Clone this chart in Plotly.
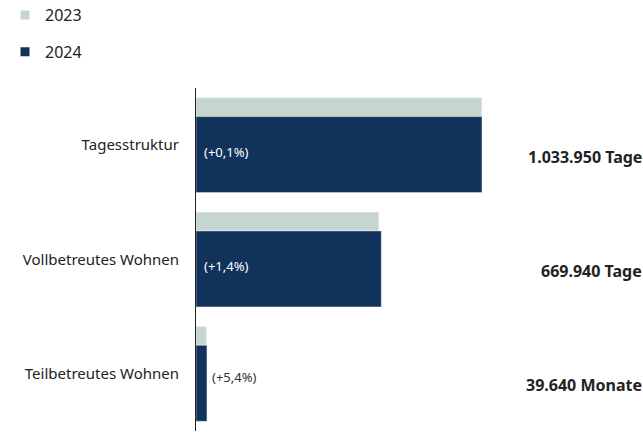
import plotly.graph_objects as go

categories = ["Tagesstruktur", "Vollbetreutes Wohnen", "Teilbetreutes Wohnen"]
values_2023 = [1033000, 660700, 37600]
values_2024 = [1033950, 669940, 39640]
change_labels = ["(+0,1%)", "(+1,4%)", "(+5,4%)"]
value_labels = ["1.033.950 Tage", "669.940 Tage", "39.640 Monate"]
series_names = ["2023", "2024"]

C2023 = "#c6d6ce"
C2024 = "#11325a"
FONT = "Noto Sans"

fig = go.Figure()
fig.add_trace(go.Bar(y=categories, x=values_2023, orientation="h", name=series_names[0],
                     marker_color=C2023, offset=-0.414, width=0.164, showlegend=False,
                     hoverinfo="x+name"))
fig.add_trace(go.Bar(y=categories, x=values_2024, orientation="h", name=series_names[1],
                     marker_color=C2024, offset=-0.25, width=0.665, showlegend=False,
                     hoverinfo="x+name"))
# legend entries
for name, col in zip(series_names, [C2023, C2024]):
    fig.add_trace(go.Scatter(x=[None], y=[None], mode="markers", name=name, legendgroup=name,
                             marker=dict(symbol="square", size=9, color=col)))

annotations = []
threshold = 200000
for i, (cat, v, cl, vl) in enumerate(zip(categories, values_2024, change_labels, value_labels)):
    inside = v > threshold
    annotations.append(dict(x=0 if inside else v, y=i + (0.06 if inside else 0.03),
                            xref="x", yref="y", text=cl,
                            showarrow=False, xanchor="left", yanchor="middle",
                            xshift=6 if inside else 3,
                            font=dict(family=FONT, size=13, color="white" if inside else "#333333")))
    annotations.append(dict(x=1, y=i + 0.1, xref="paper", yref="y", text="<b>" + vl + "</b>",
                            showarrow=False, xanchor="right", yanchor="middle", xshift=1,
                            font=dict(family=FONT, size=16, color="#222222")))

fig.update_layout(
    width=643, height=432,
    margin=dict(l=196, r=0, t=88, b=1, autoexpand=False),
    barmode="overlay",
    paper_bgcolor="white", plot_bgcolor="white",
    font=dict(family=FONT, size=15, color="#222222"),
    showlegend=True,
    legend=dict(x=0.0078, y=1.262, xref="container", yref="paper", xanchor="left", yanchor="top",
                orientation="v", tracegroupgap=13, font=dict(family=FONT, size=16, color="#222222"),
                bgcolor="rgba(0,0,0,0)"),
    xaxis=dict(range=[0, 1616000], visible=False, fixedrange=True),
    yaxis=dict(type="category", autorange="reversed", showline=True, linecolor="#222222",
               linewidth=1, showgrid=False, zeroline=False, ticks="", ticklabelstandoff=13,
               automargin=False,
               tickfont=dict(family=FONT, size=15, color="#222222"), fixedrange=True),
    annotations=annotations,
)

fig.write_html(
    "out.html",
    config={"displayModeBar": False},
    post_script="document.body.style.margin='0px';document.body.style.overflow='hidden';",
)
